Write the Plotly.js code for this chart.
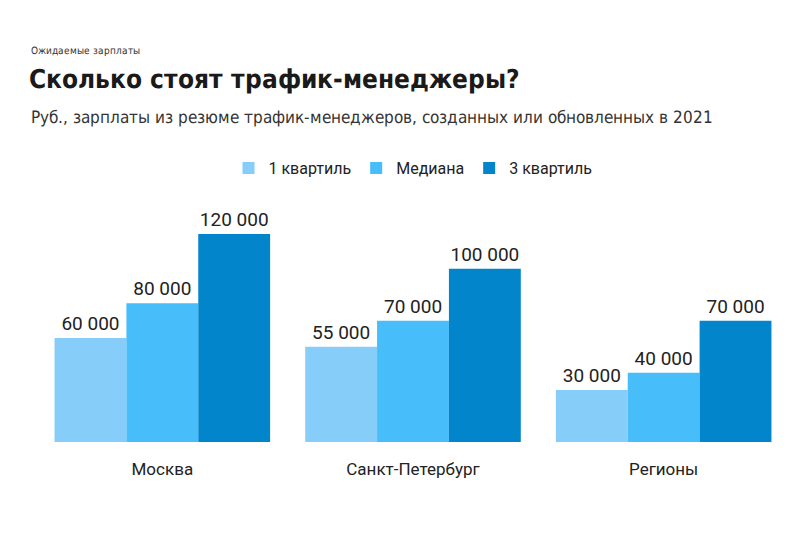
<!DOCTYPE html>
<html><head><meta charset="utf-8">
<script src="https://cdn.plot.ly/plotly-3.0.1.min.js"></script>
<style>
@font-face{font-family:"CondX";font-weight:400;src:local("DejaVu Sans Condensed"),local("DejaVuSansCondensed"),local("Liberation Sans Narrow"),local("LiberationSansNarrow-Regular");}
@font-face{font-family:"CondX";font-weight:700;src:local("DejaVu Sans Condensed Bold"),local("DejaVuSansCondensed-Bold"),local("Liberation Sans Narrow Bold"),local("LiberationSansNarrow-Bold");}
body{margin:0;background:#fff}#c{width:800px;height:534px}
</style>
</head><body><div id="c"></div>
<script>
const categories = ["Москва", "Санкт-Петербург", "Регионы"];
const q1 = [60000, 55000, 30000];
const median = [80000, 70000, 40000];
const q3 = [120000, 100000, 70000];
const seriesNames = ["1 квартиль", "Медиана", "3 квартиль"];
const colors = ["#86CEF9", "#47BDF9", "#0385CC"];

const vals = [q1, median, q3];
const traces = vals.map((v, i) => ({
  type: "bar", x: categories, y: v, name: seriesNames[i],
  marker: {color: colors[i]},
  texttemplate: "%{y:,}", textposition: "outside", cliponaxis: false,
  textfont: {family: "Roboto, sans-serif", size: 19, color: "#222"},
  hoverinfo: "skip"
}));

const condFont = "CondX, Roboto, sans-serif";
const layout = {
  width: 800, height: 534,
  margin: {l: 36.5, r: 10.5, t: 190, b: 92},
  separators: ", ",
  barmode: "group", bargap: 0.14, bargroupgap: 0,
  paper_bgcolor: "#fff", plot_bgcolor: "#fff",
  font: {family: "Roboto, sans-serif", color: "#222"},
  title: {text: "<b>Сколько стоят трафик-менеджеры?</b>", xref: "container", yref: "container",
    x: 29/800, xanchor: "left", y: 1 - 79/534, yanchor: "middle",
    font: {family: condFont, size: 25.5, color: "#1a1a1a"}},
  xaxis: {showgrid: false, zeroline: false, showline: false, ticks: "",
    tickfont: {family: "Roboto, sans-serif", size: 17, color: "#222"}, ticklabelstandoff: 15},
  yaxis: {range: [0, 145400], visible: false, fixedrange: true},
  showlegend: true,
  legend: {orientation: "h", x: 0.5, xanchor: "center", y: (442-168)/252, yanchor: "middle",
    font: {family: "Roboto, sans-serif", size: 16, color: "#222"}, traceorder: "normal", itemwidth: 30},
  annotations: [
    {text: "Ожидаемые зарплаты", xref: "paper", yref: "paper", x: (28-36.5)/753, y: (442-50)/252,
     xanchor: "left", yanchor: "middle", showarrow: false,
     font: {family: condFont, size: 10.3, color: "#333"}},
    {text: "Руб., зарплаты из резюме трафик-менеджеров, созданных или обновленных в 2021", xref: "paper", yref: "paper",
     x: (28-36.5)/753, y: (442-117)/252, xanchor: "left", yanchor: "middle", showarrow: false,
     font: {family: condFont, size: 16.8, color: "#333"}}
  ]
};
Plotly.newPlot("c", traces, layout, {displayModeBar: false, staticPlot: true});
</script></body></html>
